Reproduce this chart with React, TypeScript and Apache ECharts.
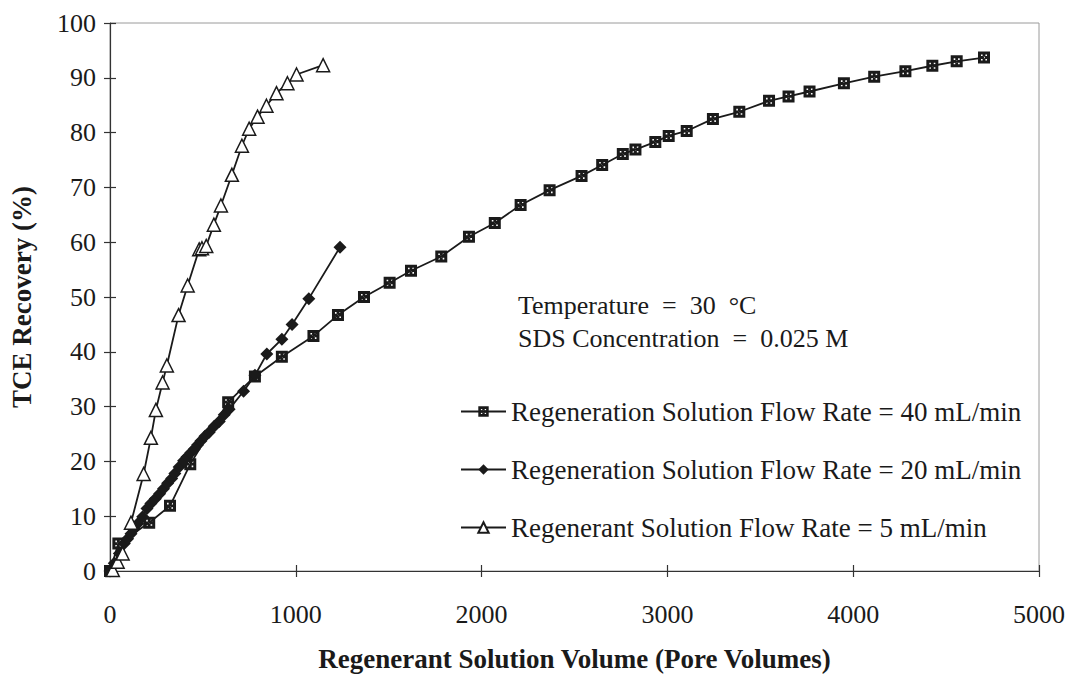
import React, { useEffect, useRef } from "react";
import * as echarts from "echarts";

// Regeneration Solution Flow Rate = 40 mL/min (hatched squares)
const flow40X = [0, 45, 211, 323, 432, 636, 780, 925, 1095, 1227, 1367, 1505, 1620, 1783, 1932, 2071, 2210, 2366, 2538, 2649, 2760, 2828, 2935, 3007, 3104, 3245, 3387, 3547, 3652, 3765, 3950, 4113, 4281, 4426, 4557, 4704];
const flow40Y = [0, 5.0, 8.8, 11.9, 19.5, 30.8, 35.5, 39.1, 42.9, 46.7, 50.0, 52.6, 54.8, 57.4, 61.0, 63.5, 66.8, 69.5, 72.1, 74.1, 76.1, 76.9, 78.3, 79.4, 80.3, 82.5, 83.8, 85.8, 86.6, 87.5, 89.0, 90.2, 91.2, 92.2, 93.0, 93.7];

// Regeneration Solution Flow Rate = 20 mL/min (filled diamonds)
const flow20X = [0, 23, 50, 77, 95, 113, 131, 149, 176, 199, 220, 244, 267, 288, 310, 332, 349, 372, 396, 414, 435, 453, 471, 489, 511, 534, 561, 588, 615, 641, 719, 780, 844, 925, 980, 1070, 1238];
const flow20Y = [0, 1.4, 3.2, 5.0, 5.9, 6.8, 7.7, 8.6, 9.9, 11.4, 12.3, 13.2, 14.1, 15.0, 16.0, 16.9, 17.8, 19.0, 20.1, 20.8, 21.6, 22.2, 23.0, 23.7, 24.6, 25.3, 26.4, 27.3, 28.5, 29.5, 32.8, 35.7, 39.6, 42.3, 45.0, 49.7, 59.1];

// Regenerant Solution Flow Rate = 5 mL/min (open triangles)
const flow5X = [15, 41, 68, 113, 181, 220, 247, 283, 306, 369, 418, 480, 495, 518, 559, 597, 656, 710, 749, 794, 842, 896, 955, 1004, 1147];
const flow5Y = [0.2, 1.7, 3.2, 8.8, 17.7, 24.3, 29.4, 34.4, 37.5, 46.7, 52.1, 58.7, 58.9, 59.3, 63.2, 66.7, 72.3, 77.6, 80.7, 82.9, 84.9, 87.2, 89.0, 90.6, 92.3];

const seriesNames = [
  "Regeneration Solution Flow Rate = 40 mL/min",
  "Regeneration Solution Flow Rate = 20 mL/min",
  "Regenerant Solution Flow Rate = 5 mL/min",
];

const xAxisTitle = "Regenerant Solution Volume (Pore Volumes)";
const yAxisTitle = "TCE Recovery (%)";
const noteLines = ["Temperature  =  30  °C", "SDS Concentration  =  0.025 M"];

const FONT = "'Liberation Serif', 'Times New Roman', serif";
const INK = "#1a1a1a";

const zip = (xs: number[], ys: number[]) => xs.map((x, i) => [x, ys[i]]);

const hatchedSquare =
  "path://M0,0H12V12H0Z M3,3V4.6H4.6V3Z M7.4,3V4.6H9V3Z M3,7.4V9H4.6V7.4Z M7.4,7.4V9H9V7.4Z M5.2,5.2V6.8H6.8V5.2Z";

export default function App() {
  const ref = useRef<HTMLDivElement>(null);

  useEffect(() => {
    if (!ref.current) return;
    const chart = echarts.init(ref.current, null, { renderer: "svg" });

    const baseX = {
      type: "value" as const,
      min: 0,
      max: 5000,
      interval: 1000,
      splitLine: { show: false },
    };
    const baseY = {
      type: "value" as const,
      min: 0,
      max: 100,
      interval: 10,
      splitLine: { show: false },
    };

    const option: any = {
      animation: false,
      backgroundColor: "#ffffff",
      grid: {
        left: 109,
        right: 37,
        top: 23,
        bottom: 99,
        show: true,
        borderColor: "#9a9a9a",
        borderWidth: 1,
      },
      xAxis: [
        {
          ...baseX,
          position: "bottom",
          axisLine: { show: true, lineStyle: { color: "#333", width: 1.2 } },
          axisTick: { show: true, length: 6, lineStyle: { color: "#333", width: 1.2 } },
          axisLabel: {
            fontFamily: FONT,
            fontSize: 26,
            color: INK,
            margin: 30,
            formatter: (v: number) => String(v),
          },
          name: xAxisTitle,
          nameLocation: "middle",
          nameGap: 74,
          nameTextStyle: { fontFamily: FONT, fontSize: 27, fontWeight: "bold", color: INK },
        },
        {
          ...baseX,
          position: "bottom",
          axisLine: { show: false },
          axisTick: { show: true, inside: true, length: 6, lineStyle: { color: "#333", width: 1.2 } },
          axisLabel: { show: false },
        },
      ],
      yAxis: [
        {
          ...baseY,
          position: "left",
          axisLine: { show: true, lineStyle: { color: "#333", width: 1.2 } },
          axisTick: { show: true, length: 6, lineStyle: { color: "#333", width: 1.2 } },
          axisLabel: { fontFamily: FONT, fontSize: 26, color: INK, margin: 14 },
          name: yAxisTitle,
          nameLocation: "middle",
          nameGap: 75,
          nameRotate: 90,
          nameTextStyle: { fontFamily: FONT, fontSize: 27, fontWeight: "bold", color: INK },
        },
        {
          ...baseY,
          position: "left",
          axisLine: { show: false },
          axisTick: { show: true, inside: true, length: 6, lineStyle: { color: "#333", width: 1.2 } },
          axisLabel: { show: false },
        },
      ],
      legend: {
        orient: "vertical",
        left: 455,
        top: 393,
        itemWidth: 45,
        itemHeight: 13,
        itemGap: 31,
        textStyle: { fontFamily: FONT, fontSize: 27, color: INK },
        data: seriesNames,
      },
      graphic: noteLines.map((t, i) => ({
        type: "text",
        x: 518,
        y: 305 + i * 33,
        style: {
          text: t,
          font: `26px ${FONT}`,
          fill: INK,
          textVerticalAlign: "middle",
        },
      })),
      series: [
        {
          name: seriesNames[0],
          type: "line",
          xAxisIndex: 0,
          yAxisIndex: 0,
          data: zip(flow40X, flow40Y),
          symbol: hatchedSquare,
          symbolSize: 12,
          showAllSymbol: true,
          lineStyle: { color: INK, width: 1.8 },
          itemStyle: { color: INK, borderWidth: 0 },
        },
        {
          name: seriesNames[1],
          type: "line",
          xAxisIndex: 0,
          yAxisIndex: 0,
          data: zip(flow20X, flow20Y),
          symbol: "diamond",
          symbolSize: 13,
          showAllSymbol: true,
          lineStyle: { color: INK, width: 1.8 },
          itemStyle: { color: INK, borderWidth: 0 },
        },
        {
          name: seriesNames[2],
          type: "line",
          xAxisIndex: 0,
          yAxisIndex: 0,
          data: zip(flow5X, flow5Y),
          symbol: "triangle",
          symbolSize: 13,
          showAllSymbol: true,
          lineStyle: { color: INK, width: 1.8 },
          itemStyle: { color: "#ffffff", borderColor: INK, borderWidth: 1.5 },
        },
      ],
    };

    chart.setOption(option);
    return () => chart.dispose();
  }, []);

  return (
    <div
      ref={ref}
      style={{ position: "absolute", left: 0, top: 0, width: 1076, height: 677 }}
    />
  );
}
